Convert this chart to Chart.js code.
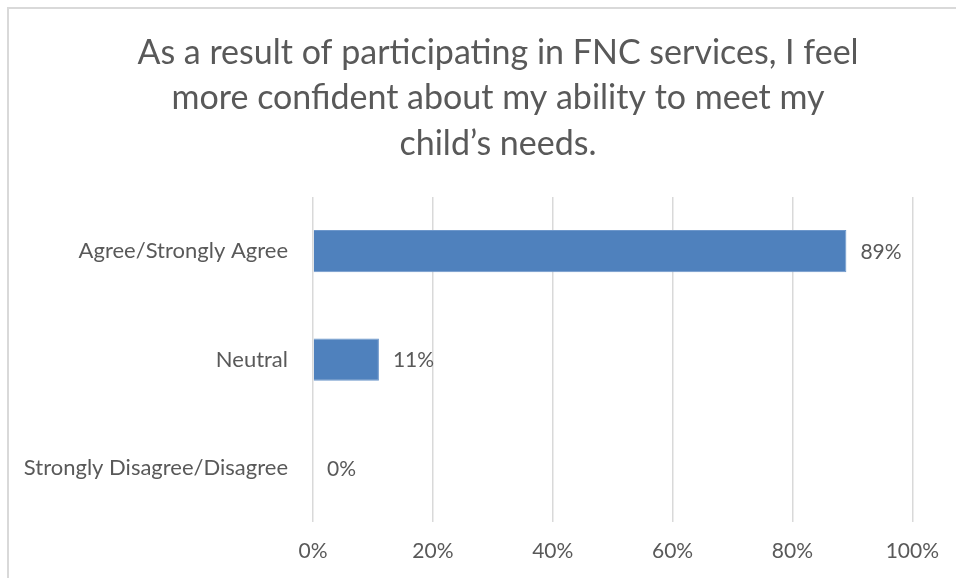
<!DOCTYPE html>
<html>
<head>
<meta charset="utf-8">
<script src="https://cdn.jsdelivr.net/npm/chart.js@4/dist/chart.umd.min.js"></script>
<style>
  html, body { margin: 0; padding: 0; background: #fff; }
  #wrap { position: relative; width: 956px; height: 578px; overflow: hidden; }
  #frame { position: absolute; left: 7px; top: 7px; right: -10px; bottom: -10px; border-left: 2px solid #d9d9d9; border-top: 2px solid #d9d9d9; }
  canvas { position: absolute; left: 0; top: 0; }
</style>
</head>
<body>
<div id="wrap">
  <div id="frame"></div>
  <canvas id="chart" width="956" height="578"></canvas>
</div>
<script>
const titleLines = [
  'As a result of participating in FNC services, I feel',
  'more confident about my ability to meet my',
  'child\u2019s needs.'
];
const categories = ['Agree/Strongly Agree', 'Neutral', 'Strongly Disagree/Disagree'];
const percents = [89, 11, 0];
const xTicks = [0, 20, 40, 60, 80, 100];

const textColor = '#595959';
const fontFamily = 'Lato, "Open Sans", sans-serif';

// three-line heading, centred over the whole frame rather than the plot
const heading = {
  id: 'heading',
  afterDraw(chart) {
    const ctx = chart.ctx;
    ctx.save();
    ctx.font = '34px ' + fontFamily;
    ctx.fillStyle = textColor;
    ctx.textAlign = 'center';
    ctx.textBaseline = 'middle';
    titleLines.forEach((line, i) => ctx.fillText(line, 498, 53 + i * 45.5));
    ctx.restore();
  }
};

// writes "NN%" just past the end of each bar
const valueLabels = {
  id: 'valueLabels',
  afterDatasetsDraw(chart) {
    const ctx = chart.ctx;
    const meta = chart.getDatasetMeta(0);
    ctx.save();
    ctx.font = '21px ' + fontFamily;
    ctx.fillStyle = textColor;
    ctx.textAlign = 'left';
    ctx.textBaseline = 'middle';
    meta.data.forEach((bar, i) => {
      ctx.fillText(percents[i] + '%', bar.x + 14, bar.y + 1);
    });
    ctx.restore();
  }
};

new Chart(document.getElementById('chart'), {
  type: 'bar',
  data: {
    labels: categories,
    datasets: [{
      data: percents,
      backgroundColor: '#4f81bd',
      borderColor: '#6d97cb',
      borderWidth: 1,
      barPercentage: 0.78,
      categoryPercentage: 0.5
    }]
  },
  options: {
    indexAxis: 'y',
    responsive: false,
    animation: false,
    layout: { padding: { left: 0, right: 43, top: 197, bottom: 0 } },
    plugins: {
      legend: { display: false },
      tooltip: { enabled: false },
      title: { display: false }
    },
    scales: {
      x: {
        min: 0,
        max: 100,
        afterBuildTicks(scale) { scale.ticks = xTicks.map(v => ({ value: v })); },
        afterFit(scale) { scale.height = 56; },
        grid: { color: '#d9d9d9', lineWidth: 1.5, drawTicks: false },
        border: { display: false },
        ticks: {
          color: textColor,
          font: { family: fontFamily, size: 21 },
          padding: 17,
          callback: v => v + '%'
        }
      },
      y: {
        afterFit(scale) { scale.width = 313; },
        grid: { display: false },
        border: { display: false },
        ticks: {
          color: textColor,
          font: { family: fontFamily, size: 22 },
          padding: 17
        }
      }
    }
  },
  plugins: [valueLabels, heading]
});
</script>
</body>
</html>
